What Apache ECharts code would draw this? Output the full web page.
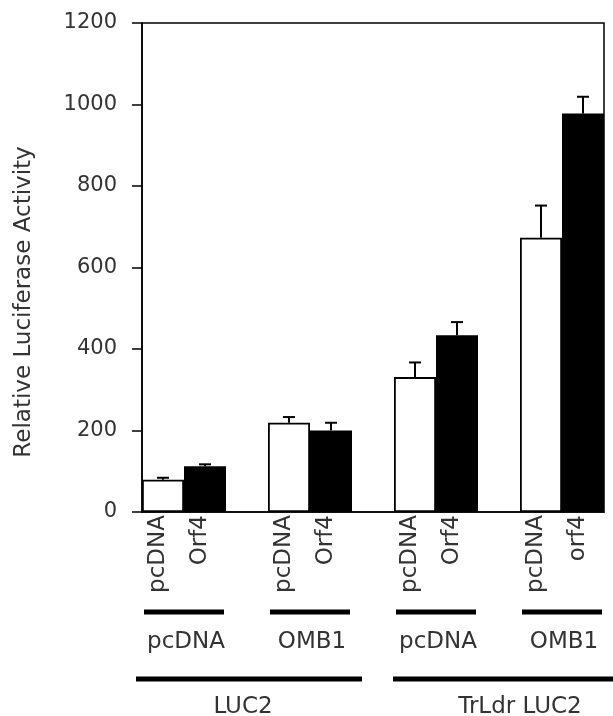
<!DOCTYPE html>
<html><head><meta charset="utf-8">
<script src="https://cdn.jsdelivr.net/npm/echarts@6/dist/echarts.min.js"></script>
<style>html,body{margin:0;padding:0;background:#fff}#c{width:613px;height:716px}</style>
</head><body><div id="c"></div>
<script>
// ---- data ----
const constructs = ['LUC2', 'TrLdr LUC2'];
const cotransfected = ['pcDNA', 'OMB1', 'pcDNA', 'OMB1'];
const barLabels = [['pcDNA', 'Orf4'], ['pcDNA', 'Orf4'], ['pcDNA', 'Orf4'], ['pcDNA', 'orf4']];
const pcdnaValues = [79, 219, 331, 673];
const pcdnaErrors = [5, 14, 36, 79];
const orf4Values = [112, 200, 434, 978];
const orf4Errors = [5, 19, 32, 41];
const yTicks = [0, 200, 400, 600, 800, 1000, 1200];
const yTitle = 'Relative Luciferase Activity';

// ---- build slot layout (two bars per group, empty slot between groups) ----
const categories = [], whiteData = [], blackData = [], errData = [], subGroups = [];
for (let g = 0; g < pcdnaValues.length; g++) {
  const s = categories.length;
  categories.push(s + ':' + barLabels[g][0], (s + 1) + ':' + barLabels[g][1]);
  whiteData.push(pcdnaValues[g], '-');
  blackData.push('-', orf4Values[g]);
  errData.push([s, pcdnaValues[g], pcdnaErrors[g]], [s + 1, orf4Values[g], orf4Errors[g]]);
  subGroups.push([s, s + 1]);
  if (g < pcdnaValues.length - 1) {
    categories.push((s + 2) + ':');
    whiteData.push('-'); blackData.push('-');
  }
}
const mainGroups = [[subGroups[0][0], subGroups[1][1]], [subGroups[2][0], subGroups[3][1]]];
const mainLineExt = [[6, 10], [1, 55]];

const FONT = '"DejaVu Sans", sans-serif';
const TXT = '#333';

const chart = echarts.init(document.getElementById('c'), null, { renderer: 'canvas' });
chart.setOption({
  animation: false,
  backgroundColor: '#fff',
  grid: { left: 142, right: 9, top: 23, bottom: 204, show: true, borderColor: '#000', borderWidth: 1.5, containLabel: false },
  xAxis: {
    type: 'category', data: categories,
    axisLine: { show: true, lineStyle: { color: '#000', width: 1.5 } },
    axisTick: { show: false },
    axisLabel: {
      interval: 0, rotate: 90, margin: 3, color: TXT, fontFamily: FONT, fontSize: 23,
      verticalAlign: 'bottom', lineHeight: 10,
      formatter: v => v.split(':')[1]
    },
    splitLine: { show: false }
  },
  yAxis: {
    type: 'value', min: yTicks[0], max: yTicks[yTicks.length - 1], interval: yTicks[1] - yTicks[0],
    axisLine: { show: true, lineStyle: { color: '#000', width: 1.5 } },
    axisTick: { show: true, length: 10, lineStyle: { color: '#000', width: 1.5 } },
    axisLabel: { margin: 25, color: TXT, fontFamily: FONT, fontSize: 21, formatter: v => String(v) },
    splitLine: { show: false }
  },
  graphic: [{
    type: 'text', x: 24, y: 302, rotation: Math.PI / 2,
    style: { text: yTitle, font: '23px ' + FONT, fill: TXT, align: 'center', verticalAlign: 'middle' }
  }],
  series: [
    {
      name: 'pcDNA', type: 'bar', data: whiteData, barWidth: '100%', barGap: '-100%', barCategoryGap: '0%',
      itemStyle: { color: '#fff', borderColor: '#000', borderWidth: 1.8 }
    },
    {
      name: 'Orf4', type: 'bar', data: blackData, barWidth: '100%', barGap: '-100%', barCategoryGap: '0%',
      itemStyle: { color: '#000', borderColor: '#000', borderWidth: 1.5 }
    },
    {
      type: 'custom', data: errData, z: 5,
      encode: { x: 0, y: 1 },
      renderItem(params, api) {
        const x = api.value(0), v = api.value(1), e = api.value(2);
        const base = api.coord([x, v]);
        const top = api.coord([x, v + e]);
        return {
          type: 'group', children: [
            { type: 'line', shape: { x1: base[0], y1: base[1], x2: top[0], y2: top[1] }, style: { stroke: '#000', lineWidth: 2 } },
            { type: 'line', shape: { x1: top[0] - 6, y1: top[1], x2: top[0] + 6, y2: top[1] }, style: { stroke: '#000', lineWidth: 2 } }
          ]
        };
      }
    },
    {
      type: 'custom', data: subGroups.map(s => [s[0], 0, s[1]]), clip: false, silent: true,
      encode: { x: 0, y: 1 },
      renderItem(params, api) {
        const a = api.coord([api.value(0), 0]);
        const b = api.coord([api.value(2), 0]);
        const w = api.size([1, 0])[0];
        const cx = (a[0] - w / 2 + b[0] + w / 2) / 2;
        const y0 = a[1];
        return {
          type: 'group', children: [
            { type: 'line', shape: { x1: cx - 40, y1: y0 + 100, x2: cx + 40, y2: y0 + 100 }, style: { stroke: '#000', lineWidth: 5 } },
            { type: 'text', x: cx + 2, y: y0 + 130, style: { text: cotransfected[params.dataIndex], font: '23px ' + FONT, fill: TXT, align: 'center', verticalAlign: 'middle' } }
          ]
        };
      }
    },
    {
      type: 'custom', data: mainGroups.map(s => [s[0], 0, s[1]]), clip: false, silent: true,
      encode: { x: 0, y: 1 },
      renderItem(params, api) {
        const i = params.dataIndex;
        const a = api.coord([api.value(0), 0]);
        const b = api.coord([api.value(2), 0]);
        const w = api.size([1, 0])[0];
        const l = a[0] - w / 2 - mainLineExt[i][0], r = b[0] + w / 2 + mainLineExt[i][1];
        const y0 = a[1];
        return {
          type: 'group', children: [
            { type: 'line', shape: { x1: l, y1: y0 + 167, x2: r, y2: y0 + 167 }, style: { stroke: '#000', lineWidth: 5 } },
            { type: 'text', x: (l + r) / 2 - 6, y: y0 + 195, style: { text: constructs[i], font: '23px ' + FONT, fill: TXT, align: 'center', verticalAlign: 'middle' } }
          ]
        };
      }
    }
  ]
});
</script></body></html>
